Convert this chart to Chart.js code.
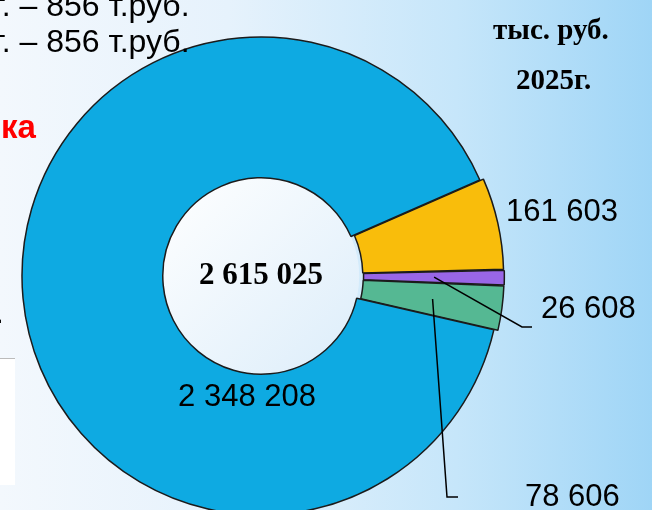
<!DOCTYPE html>
<html>
<head>
<meta charset="utf-8">
<script src="https://cdn.jsdelivr.net/npm/chart.js@4"></script>
<style>
  body { margin: 0; }
  #slide {
    position: relative; width: 652px; height: 510px; overflow: hidden;
    background: linear-gradient(90deg, #f3f8fd 0%, #e6f2fc 35%, #c6e6fa 70%, #9fd5f6 100%);
  }
  #chart { position: absolute; left: 0; top: 0; z-index: 1; }
  .t { position: absolute; white-space: nowrap; color: #000; z-index: 2; }
  .arial { font-family: "Liberation Sans", Arial, sans-serif; font-size: 32px; }
  .times { font-family: "Liberation Serif", "Times New Roman", serif; font-weight: bold; font-size: 29px; }
  #box { position: absolute; left: 0; top: 358px; width: 15px; height: 126px; background: #fff; border-top: 1px solid #bbb; }
</style>
</head>
<body>
<div id="slide">
  <div class="t arial" style="left:-6px; top:-13px;">г. – 856 т.руб.</div>
  <div class="t arial" style="left:-6px; top:23px;">г. – 856 т.руб.</div>
  <div class="t arial" style="left:1px; top:108px; color:#ff0000; font-weight:bold; font-size:33px;">ка</div>
  <div class="t arial" style="left:-5px; top:294px;">.</div>
  <div id="box"></div>
  <div class="t times" style="left:493px; top:13px;">тыс. руб.</div>
  <div class="t times" style="left:516px; top:63px;">2025г.</div>
  <canvas id="chart" width="652" height="510"></canvas>
</div>
<script>
const sliceValues = [161603, 26608, 78606, 2348208];
const sliceColors = ['#f9bd0b', '#9966e6', '#55b893', '#0eaae2'];
const sliceOffsets = [9, 9, 9, 0];

// thousands with a space, like on the slide
function fmt(n) {
    return String(n).replace(/\B(?=(\d{3})+(?!\d))/g, ' ');
}

// where each value label goes, relative to the doughnut centre
// elbow = leader line corner (null = no leader line)
const labelSpots = [
    { dx: 245, dy: -64, align: 'left', elbow: null },
    { dx: 280, dy: 33, align: 'left', elbow: [261, 51, 271, 51] },
    { dx: 264, dy: 221, align: 'left', elbow: [186, 221, 197, 221] },
    { dx: -14, dy: 121, align: 'center', elbow: null }
];

const valueLabels = {
    id: 'valueLabels',
    afterDatasetsDraw(chart) {
        const ctx = chart.ctx;
        const arcs = chart.getDatasetMeta(0).data;
        const cx = arcs[0].x, cy = arcs[0].y;
        ctx.save();
        ctx.strokeStyle = '#000';
        ctx.lineWidth = 1.5;
        arcs.forEach((arc, i) => {
            const s = labelSpots[i];
            if (s.elbow) {
                const p = arc.getCenterPoint();
                ctx.beginPath();
                ctx.moveTo(p.x, p.y);
                ctx.lineTo(cx + s.elbow[0], cy + s.elbow[1]);
                ctx.lineTo(cx + s.elbow[2], cy + s.elbow[3]);
                ctx.stroke();
            }
            ctx.fillStyle = '#000';
            ctx.font = '31px "Liberation Sans", Arial, sans-serif';
            ctx.textAlign = s.align;
            ctx.textBaseline = 'middle';
            ctx.fillText(fmt(sliceValues[i]), cx + s.dx, cy + s.dy);
        });
        // total in the hole
        const total = sliceValues.reduce((a, b) => a + b, 0);
        ctx.font = 'bold 31px "Liberation Serif", "Times New Roman", serif';
        ctx.textAlign = 'center';
        ctx.fillText(fmt(total), cx, cy);
        ctx.restore();
    }
};

const holeFill = {
    id: 'holeFill',
    beforeDatasetsDraw(chart) {
        const arc = chart.getDatasetMeta(0).data[3];
        const ctx = chart.ctx;
        const g = ctx.createLinearGradient(arc.x - arc.innerRadius, arc.y - arc.innerRadius, arc.x + arc.innerRadius, arc.y + arc.innerRadius);
        g.addColorStop(0, '#ffffff');
        g.addColorStop(1, '#dcedfa');
        ctx.save();
        ctx.fillStyle = g;
        ctx.beginPath();
        ctx.arc(arc.x, arc.y, arc.innerRadius, 0, Math.PI * 2);
        ctx.fill();
        ctx.restore();
    }
};

new Chart(document.getElementById('chart'), {
    type: 'doughnut',
    data: {
        labels: sliceValues.map(fmt),
        datasets: [{
            data: sliceValues,
            backgroundColor: sliceColors,
            borderColor: '#1b1b1b',
            borderWidth: 1.5,
            offset: sliceOffsets,
            clip: false
        }]
    },
    options: {
        responsive: false,
        animation: false,
        rotation: 66.3,
        radius: 239,
        cutout: 94,
        layout: { padding: { left: 0, right: 130, top: 42, bottom: 0 } },
        plugins: {
            legend: { display: false },
            tooltip: { enabled: false }
        }
    },
    plugins: [holeFill, valueLabels]
});
</script>
</body>
</html>
